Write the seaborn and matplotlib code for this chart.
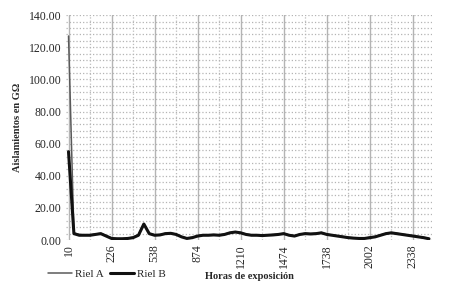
import numpy as np
import pandas as pd
import seaborn as sns
import matplotlib.pyplot as plt
from matplotlib.ticker import MultipleLocator, FixedLocator

# Hour labels shown on the category axis (every 8th reading)
hour_labels = ["10", "226", "538", "874", "1210", "1474", "1738", "2002", "2338"]

# Insulation readings (GOhm) per reading index
riel_a = [127.0, 4.5, 3.5, 3.2, 3.2, 3.8, 4.2, 2.8, 1.3, 1.0, 1.0, 1.2, 1.8, 3.3, 10.0, 4.2,
          3.2, 3.4, 4.2, 4.4, 3.7, 2.2, 1.2, 1.7, 2.7, 3.2, 3.2, 3.4, 3.2, 3.7, 4.7, 5.2,
          4.7, 3.7, 3.2, 3.2, 3.0, 3.2, 3.4, 3.7, 4.2, 3.2, 2.7, 3.7, 4.2, 4.0, 4.2, 4.7,
          3.7, 3.2, 2.7, 2.2, 1.7, 1.4, 1.2, 1.2, 1.7, 2.2, 3.2, 4.2, 4.7, 4.2, 3.7, 3.2,
          2.7, 2.2, 1.7, 1.0]
riel_b = [55.0, 4.0, 3.0, 3.0, 3.0, 3.5, 4.0, 2.5, 1.0, 0.8, 0.8, 1.0, 1.5, 3.0, 10.0, 4.0,
          3.0, 3.2, 4.0, 4.2, 3.5, 2.0, 1.0, 1.5, 2.5, 3.0, 3.0, 3.2, 3.0, 3.5, 4.5, 5.0,
          4.5, 3.5, 3.0, 3.0, 2.8, 3.0, 3.2, 3.5, 4.0, 3.0, 2.5, 3.5, 4.0, 3.8, 4.0, 4.5,
          3.5, 3.0, 2.5, 2.0, 1.5, 1.2, 1.0, 1.0, 1.5, 2.0, 3.0, 4.0, 4.5, 4.0, 3.5, 3.0,
          2.5, 2.0, 1.5, 0.8]

df = pd.DataFrame({
    "idx": np.arange(len(riel_a)),
    "Riel A": riel_a,
    "Riel B": riel_b,
})

sns.set_style("white")
plt.rcParams['font.family'] = ['Liberation Serif', 'DejaVu Serif']

fig = plt.figure(figsize=(4.54, 2.91), dpi=100)
ax = fig.add_axes([0.145, 0.175, 0.807, 0.773])

sns.lineplot(data=df, x="idx", y="Riel A", ax=ax, color="#5a5a5a", linewidth=1.1, label="Riel A")
sns.lineplot(data=df, x="idx", y="Riel B", ax=ax, color="#111111", linewidth=2.2, label="Riel B")

ax.set_xlim(-0.5, len(riel_a) - 0.4)
ax.set_ylim(0, 140)

# grid: solid major verticals, dotted everything else
ax.xaxis.set_major_locator(FixedLocator(np.arange(0, len(riel_a), 8)))
ax.xaxis.set_minor_locator(MultipleLocator(4))
ax.yaxis.set_major_locator(MultipleLocator(20))
ax.yaxis.set_minor_locator(MultipleLocator(4))
ax.grid(axis="x", which="major", color="#b4b4b4", linestyle="-", linewidth=1.0)
ax.grid(axis="x", which="minor", color="#bdbdbd", linestyle=":", linewidth=0.9)
ax.grid(axis="y", which="both", color="#b4b4b4", linestyle=":", linewidth=0.9)
ax.set_axisbelow(True)
for s in ax.spines.values():
    s.set_visible(False)

ax.set_xticks(np.arange(0, len(riel_a), 8)[:len(hour_labels)])
ax.set_xticklabels(hour_labels, rotation=90, fontsize=8.5)
ax.set_yticks(np.arange(0, 141, 20))
ax.set_yticklabels([f"{v:.2f}" for v in range(0, 141, 20)], fontsize=8.5)
ax.tick_params(axis="both", which="both", length=0, pad=3)

ax.set_xlabel("Horas de exposición", fontsize=7.5, fontweight="bold", labelpad=3)
ax.set_ylabel("Aislamientos en GΩ", fontsize=7.5, fontweight="bold", labelpad=5)

ax.get_legend().remove()
handles, labels = ax.get_legend_handles_labels()
fig.legend(handles, labels, loc="center left", bbox_to_anchor=(0.095, 0.058), ncol=2,
           frameon=False, fontsize=8, handlelength=2.2, handletextpad=0.3,
           columnspacing=0.5, borderaxespad=0)

plt.savefig("out.png", dpi=100)
